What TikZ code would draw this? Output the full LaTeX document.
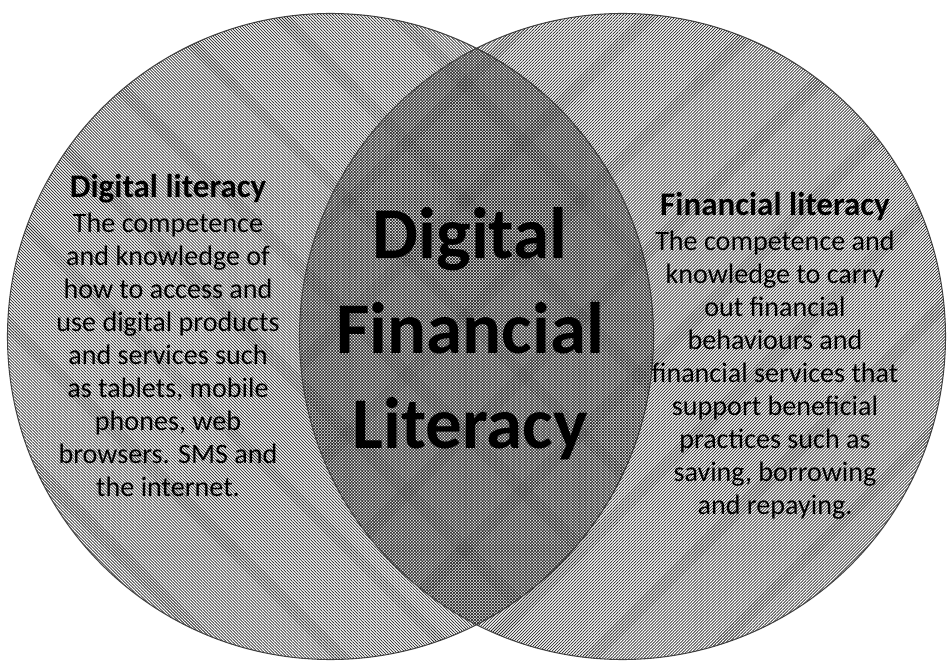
\documentclass[tikz,border=0pt]{standalone}
\usepackage{fontspec}
\setmainfont{Carlito}
\usetikzlibrary{patterns.meta, positioning}
\newcommand{\setheading}{\fontsize{18.8}{20}\selectfont\bfseries}

\begin{document}
\begin{tikzpicture}[
  x=0.02cm, y=-0.02cm,
  setcircle/.style={draw=black!75, line width=0.6pt},
  leftlines/.style={pattern={Lines[angle=-45, distance=1.21pt, line width=0.42pt]}, pattern color=black!85},
  rightlines/.style={pattern={Lines[angle=45, distance=1.21pt, line width=0.42pt]}, pattern color=black!85},
  settext/.style={align=center, font=\fontsize{16}{18.8}\selectfont, inner sep=0pt}
]
  \useasboundingbox (0,0) rectangle (948,662);

  % Two sets
  \path[setcircle, leftlines] (330.5,336.5) circle[radius=323];
  \path[setcircle, rightlines] (622.5,336.5) circle[radius=323];

  % Overlap
  \node[align=center, font=\fontsize{41.5}{54}\selectfont\bfseries, inner sep=0pt] (dfl) at (470,334)
    {Digital\\Financial\\Literacy};

  % Left set text
  \node[settext, anchor=north] (digital) at (168,174)
    {{\setheading Digital literacy}\\[1pt]
     The competence\\and knowledge of\\how to access and\\use digital products\\
     and services such\\as tablets, mobile\\phones, web\\browsers. SMS and\\the internet.};

  % Right set text
  \node[settext, anchor=north] (financial) at (775,192)
    {{\setheading Financial literacy}\\[1pt]
     The competence and\\knowledge to carry\\out financial\\behaviours and\\
     financial services that\\support beneficial\\practices such as\\saving, borrowing\\and repaying.};
\end{tikzpicture}
\end{document}
